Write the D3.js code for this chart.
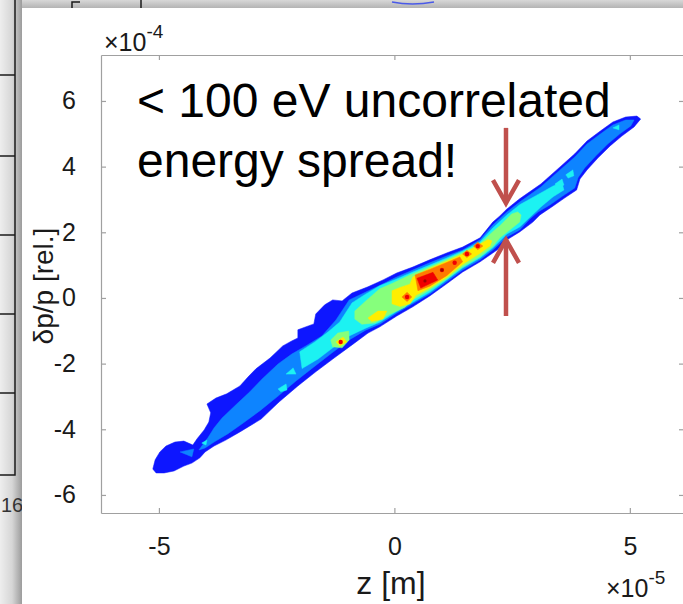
<!DOCTYPE html>
<html><head><meta charset="utf-8">
<script src="https://cdn.jsdelivr.net/npm/d3@7"></script>
<style>html,body{margin:0;padding:0;background:#fff;overflow:hidden}</style>
</head><body>
<svg id="c" width="683" height="604" xmlns="http://www.w3.org/2000/svg"></svg>
<script>
// ---- axis settings (z in 1e-5 m, dp/p in 1e-4) ----
const xTicks = [-5, 0, 5];
const yTicks = [-6, -4, -2, 0, 2, 4, 6];
const xLimits = [-6.23, 6.15];
const yLimits = [-6.55, 7.40];
const levelColors = ["#0a14ff", "#0a84ff", "#1ff2f2", "#86ff7c", "#ffee00", "#ff7a00", "#f00000", "#a00000"];

// ---- contour level outlines [z, dp/p] ----
const level1 = [[
 [-5.13,-5.21],[-5.08,-4.93],[-4.98,-4.69],[-4.85,-4.51],[-4.66,-4.39],[-4.47,-4.36],[-4.28,-4.48],[-4.19,-4.29],[-4.04,-4.02],[-3.94,-3.78],[-3.90,-3.50],[-3.98,-3.23],[-3.79,-3.05],[-3.56,-2.92],[-3.28,-2.68],[-3.11,-2.41],[-2.94,-2.16],[-2.64,-1.83],[-2.37,-1.46],[-2.18,-1.31],[-2.05,-1.22],[-2.05,-0.97],[-1.71,-0.79],[-1.67,-0.49],[-1.48,-0.21],[-1.31,-0.06],[-1.11,-0.09],[-0.90,0.15],[-0.56,0.34],[-0.24,0.55],[0.05,0.76],[0.39,0.94],[0.75,1.16],[1.11,1.37],[1.45,1.55],[1.82,1.83],[2.09,2.31],[2.24,2.50],[2.39,2.71],[2.66,3.02],[3.11,3.47],[3.47,3.93],[3.83,4.39],[4.09,4.78],[4.38,5.09],[4.64,5.36],[4.91,5.51],[5.15,5.54],[5.23,5.45],
 [5.09,5.21],[4.83,4.93],[4.58,4.63],[4.32,4.26],[4.09,3.90],[3.94,3.62],[3.87,3.29],[3.62,3.05],[3.34,2.77],[3.09,2.53],[2.94,2.31],[2.66,2.01],[2.39,1.77],[2.18,1.46],[1.82,1.10],[1.45,0.79],[1.11,0.43],[0.75,0.06],[0.39,-0.27],[0.05,-0.55],[-0.31,-0.88],[-0.56,-1.07],[-0.90,-1.43],[-1.28,-1.83],[-1.67,-2.25],[-2.05,-2.68],[-2.45,-3.17],[-2.83,-3.69],[-3.28,-4.08],[-3.58,-4.33],[-3.83,-4.51],[-4.02,-4.69],[-4.13,-4.87],[-4.30,-5.03],[-4.47,-5.12],[-4.68,-5.27],[-4.89,-5.33],[-5.06,-5.33]
]];
const level2 = [[
 [-4.15,-4.63],[-3.96,-4.26],[-3.83,-3.96],[-3.66,-3.66],[-3.37,-3.26],[-3.07,-2.86],[-2.81,-2.47],[-2.47,-2.01],[-2.18,-1.71],[-1.88,-1.46],[-1.54,-1.16],[-1.24,-0.67],[-0.96,-0.06],[-0.56,0.21],[-0.24,0.43],[0.05,0.64],[0.39,0.85],[0.75,1.07],[1.11,1.28],[1.45,1.46],[1.82,1.77],[2.09,2.22],[2.39,2.62],[2.66,2.92],[3.11,3.38],[3.47,3.84],[3.83,4.29],[4.09,4.69],[4.38,5.00],[4.64,5.27],[4.91,5.42],[5.09,5.42],
 [5.02,5.24],[4.79,5.00],[4.53,4.69],[4.28,4.33],[4.04,3.96],[3.90,3.66],[3.83,3.35],[3.58,3.11],[3.30,2.83],[3.05,2.62],[2.88,2.41],[2.66,2.07],[2.39,1.86],[2.09,1.46],[1.82,1.16],[1.45,0.85],[1.11,0.49],[0.75,0.12],[0.39,-0.18],[0.05,-0.46],[-0.31,-0.80],[-0.61,-0.98],[-0.96,-1.28],[-1.33,-1.68],[-1.71,-2.10],[-2.09,-2.53],[-2.47,-2.99],[-2.86,-3.44],[-3.24,-3.84],[-3.54,-4.14],[-3.83,-4.39],[-4.02,-4.57]
],[[-4.55,-4.69],[-4.26,-4.60],[-4.30,-4.84]]];
const level3 = [[
 [-2.01,-1.64],[-1.69,-1.34],[-1.41,-1.04],[-1.16,-0.73],[-0.90,-0.15],[-0.63,0.10],[-0.31,0.37],[0.05,0.58],[0.39,0.79],[0.75,1.00],[1.11,1.22],[1.45,1.43],[1.82,1.71],[2.09,2.13],[2.39,2.53],[2.66,2.84],[3.11,3.20],[3.37,3.41],[3.56,3.50],
 [3.60,3.29],[3.37,3.08],[3.11,2.77],[2.66,2.16],[2.39,1.95],[2.09,1.52],[1.82,1.22],[1.45,0.91],[1.11,0.55],[0.75,0.17],[0.39,-0.13],[0.05,-0.41],[-0.31,-0.74],[-0.61,-0.92],[-0.96,-1.16],[-1.28,-1.49],[-1.62,-1.86],[-1.96,-2.15]
],[[3.41,3.47],[3.56,3.62],[3.60,3.44],[3.47,3.35]],
 [[3.64,3.75],[3.79,3.90],[3.81,3.72],[3.69,3.65]],
 [[4.64,5.18],[4.77,5.27],[4.77,5.12]],
 [[-2.47,-2.77],[-2.30,-2.62],[-2.28,-2.80],[-2.41,-2.86]],
 [[-4.09,-4.42],[-3.98,-4.33],[-4.00,-4.48]],
 [[-2.30,-2.32],[-2.15,-2.13],[-2.09,-2.32]]];
const level4 = [[
 [-0.84,-0.40],[-0.63,-0.12],[-0.31,0.28],[-0.05,0.44],[0.33,0.70],[0.75,0.95],[1.11,1.17],[1.45,1.39],[1.82,1.66],[2.09,2.02],[2.24,2.20],[2.41,2.44],[2.49,2.56],[2.62,2.62],[2.69,2.53],
 [2.66,2.31],[2.45,2.07],[2.24,1.83],[2.09,1.57],[1.82,1.26],[1.45,0.95],[1.11,0.58],[0.75,0.24],[0.39,-0.06],[0.22,-0.28],[-0.10,-0.50],[-0.41,-0.76],[-0.69,-0.80],[-0.84,-0.64]
],[[-1.35,-1.28],[-1.20,-1.07],[-0.97,-1.01],[-0.96,-1.28],[-1.11,-1.52],[-1.31,-1.49]]];
const level5 = [[
 [-0.05,0.22],[0.12,0.32],[0.33,0.42],[0.39,0.64],[0.75,0.90],[1.11,1.12],[1.45,1.34],[1.77,1.60],[1.99,1.78],[2.07,1.74],
 [2.03,1.58],[1.82,1.36],[1.45,1.02],[1.11,0.63],[0.75,0.30],[0.46,0.08],[0.33,-0.18],[0.12,-0.26],[-0.05,-0.18]
],[[-0.56,-0.61],[-0.35,-0.40],[-0.16,-0.40],[-0.24,-0.64],[-0.48,-0.72]],
 [[-1.24,-1.34],[-1.09,-1.19],[-1.01,-1.34],[-1.16,-1.46]]];
const level6 = [
 [[0.44,0.70],[0.75,0.87],[1.11,1.08],[1.39,1.25],[1.45,1.10],[1.11,0.68],[0.75,0.36],[0.50,0.22]],
 [[0.16,0.03],[0.27,0.17],[0.37,0.03],[0.27,-0.11]],
 [[1.45,1.34],[1.54,1.45],[1.64,1.34],[1.54,1.23]],
 [[1.68,1.58],[1.77,1.70],[1.88,1.58],[1.77,1.47]]];
const level7 = [[[0.48,0.60],[0.82,0.78],[0.92,0.55],[0.56,0.30]]];
const redDots = [[0.27,0.03],[1.01,0.85],[1.28,1.07],[1.54,1.34],[1.77,1.58],[-1.14,-1.34]];
const darkRedDots = [[0.65,0.52],[1.01,0.85]];

// annotation arrows (z, from dp/p, to dp/p)
const arrowZ = 2.37;
const arrowTop = [5.18, 2.89];
const arrowBottom = [-0.55, 1.77];

const svg = d3.select("#c");
const W = 683, H = 604;
const defs = svg.append("defs");
const gL = defs.append("linearGradient").attr("id","gl").attr("x1",0).attr("x2",1).attr("y1",0).attr("y2",0);
gL.append("stop").attr("offset",0).attr("stop-color","#eeeeee");
gL.append("stop").attr("offset",0.55).attr("stop-color","#d6d6d6");
gL.append("stop").attr("offset",1).attr("stop-color","#9c9c9c");
const gT = defs.append("linearGradient").attr("id","gt").attr("x1",0).attr("x2",0).attr("y1",0).attr("y2",1);
gT.append("stop").attr("offset",0).attr("stop-color","#d8d8d8");
gT.append("stop").attr("offset",1).attr("stop-color","#b4b4b4");
defs.append("filter").attr("id","soft").append("feGaussianBlur").attr("stdDeviation",0.6);

// backdrop (previous slide)
svg.append("rect").attr("width",W).attr("height",H).attr("fill","#dcdcdc");
svg.append("rect").attr("x",0).attr("y",0).attr("width",W).attr("height",8).attr("fill","url(#gt)");
svg.append("rect").attr("x",0).attr("y",0).attr("width",22).attr("height",H).attr("fill","url(#gl)");
const bk = svg.append("g").attr("stroke","#1a1a1a").attr("stroke-width",1.5).attr("fill","none");
bk.append("path").attr("d","M15,0V475H0");
[75,156,235,314,393].forEach(v=>bk.append("path").attr("d",`M0,${v}H15`));
bk.append("path").attr("d","M141,0V8");
bk.append("path").attr("d","M72,8V2H80");
svg.append("path").attr("d","M392,2Q412,6 434,2").attr("stroke","#4a5ae8").attr("stroke-width",1.5).attr("fill","none");
svg.append("text").attr("x",1).attr("y",512).attr("font-family","Liberation Sans, Arial").attr("font-size",20).attr("fill","#333").text("16");
// white slide
svg.append("rect").attr("x",22).attr("y",8).attr("width",W).attr("height",H).attr("fill","#fff");

const x = d3.scaleLinear().domain(xLimits).range([101, 684]);
const y = d3.scaleLinear().domain(yLimits).range([513, 55]);

const line = d3.line().x(d=>x(d[0])).y(d=>y(d[1])).curve(d3.curveLinearClosed);
const beam = svg.append("g").attr("filter","url(#soft)");
[level1, level2, level3, level4, level5, level6, level7].forEach((lev,i)=>{
  beam.selectAll(null).data(lev).enter().append("path")
    .attr("d", line).attr("fill", levelColors[i]).attr("stroke", levelColors[i]).attr("stroke-width",0.5);
});
beam.selectAll(null).data(redDots).enter().append("circle")
  .attr("cx",d=>x(d[0])).attr("cy",d=>y(d[1])).attr("r",2.2).attr("fill",levelColors[6]);
beam.selectAll(null).data(darkRedDots).enter().append("circle")
  .attr("cx",d=>x(d[0])).attr("cy",d=>y(d[1])).attr("r",1.6).attr("fill",levelColors[7]);

// axes
const font = "Liberation Sans, Arial, Helvetica, sans-serif";
function styleAxis(g, labels){
  g.select(".domain").attr("stroke","#a0a0a0").attr("stroke-width",1.2);
  g.selectAll(".tick line").attr("stroke","#a0a0a0").attr("stroke-width",1.2);
  g.selectAll(".tick text").attr("font-family",font).attr("font-size",25).attr("fill","#1a1a1a");
  if(!labels) g.selectAll(".tick text").remove();
}
svg.append("g").attr("transform","translate(0,513)")
  .call(d3.axisBottom(x).tickValues(xTicks).tickSizeInner(-5).tickSizeOuter(0).tickPadding(24).tickFormat(d3.format("d")))
  .call(g=>styleAxis(g,true));
svg.append("g").attr("transform","translate(0,55)")
  .call(d3.axisTop(x).tickValues(xTicks).tickSizeInner(-5).tickSizeOuter(0))
  .call(g=>styleAxis(g,false));
svg.append("g").attr("transform","translate(101,0)")
  .call(d3.axisLeft(y).tickValues(yTicks).tickSizeInner(-5).tickSizeOuter(0).tickPadding(25).tickFormat(d3.format("d")))
  .call(g=>styleAxis(g,true));
svg.append("g").attr("transform","translate(684,0)")
  .call(d3.axisRight(y).tickValues(yTicks).tickSizeInner(-5).tickSizeOuter(0))
  .call(g=>styleAxis(g,false));
svg.selectAll(".tick text").text(function(){return this.textContent.replace("−","-");});

// exponent labels
function expo(xp, yp, e){
  const t = svg.append("text").attr("x",xp).attr("y",yp).attr("font-family",font).attr("font-size",25).attr("fill","#1a1a1a");
  t.append("tspan").text("×10");
  t.append("tspan").attr("font-size",19).attr("dy",-13).text(e);
}
expo(104, 51, "-4");
expo(606, 597, "-5");

// axis labels
svg.append("text").attr("x",391).attr("y",594).attr("text-anchor","middle")
  .attr("font-family",font).attr("font-size",32).attr("fill","#1a1a1a").text("z [m]");
svg.append("text").attr("transform","translate(53,286) rotate(-90)").attr("text-anchor","middle")
  .attr("font-family",font).attr("font-size",28).attr("fill","#1a1a1a").text("δp/p [rel.]");

// annotation text
const ann = svg.append("text").attr("font-family",font).attr("font-size",48).attr("fill","#000");
ann.append("tspan").attr("x",137).attr("y",117).text("< 100 eV uncorrelated");
ann.append("tspan").attr("x",137).attr("y",177).text("energy spread!");

// arrows
const ac = "#c0504d";
function arrow(from, to){
  const ax = x(arrowZ), y0 = y(from), y1 = y(to);
  const s = Math.sign(y1 - y0);
  svg.append("path").attr("d",`M${ax},${y0}V${y1-s*2}`).attr("stroke",ac).attr("stroke-width",4.5).attr("fill","none");
  svg.append("path").attr("d",`M${ax-13},${y1-s*23}L${ax},${y1}L${ax+13},${y1-s*23}`)
    .attr("stroke",ac).attr("stroke-width",4.5).attr("fill","none").attr("stroke-linejoin","miter");
}
arrow(arrowTop[0], arrowTop[1]);
arrow(arrowBottom[0], arrowBottom[1]);
</script>
</body></html>
